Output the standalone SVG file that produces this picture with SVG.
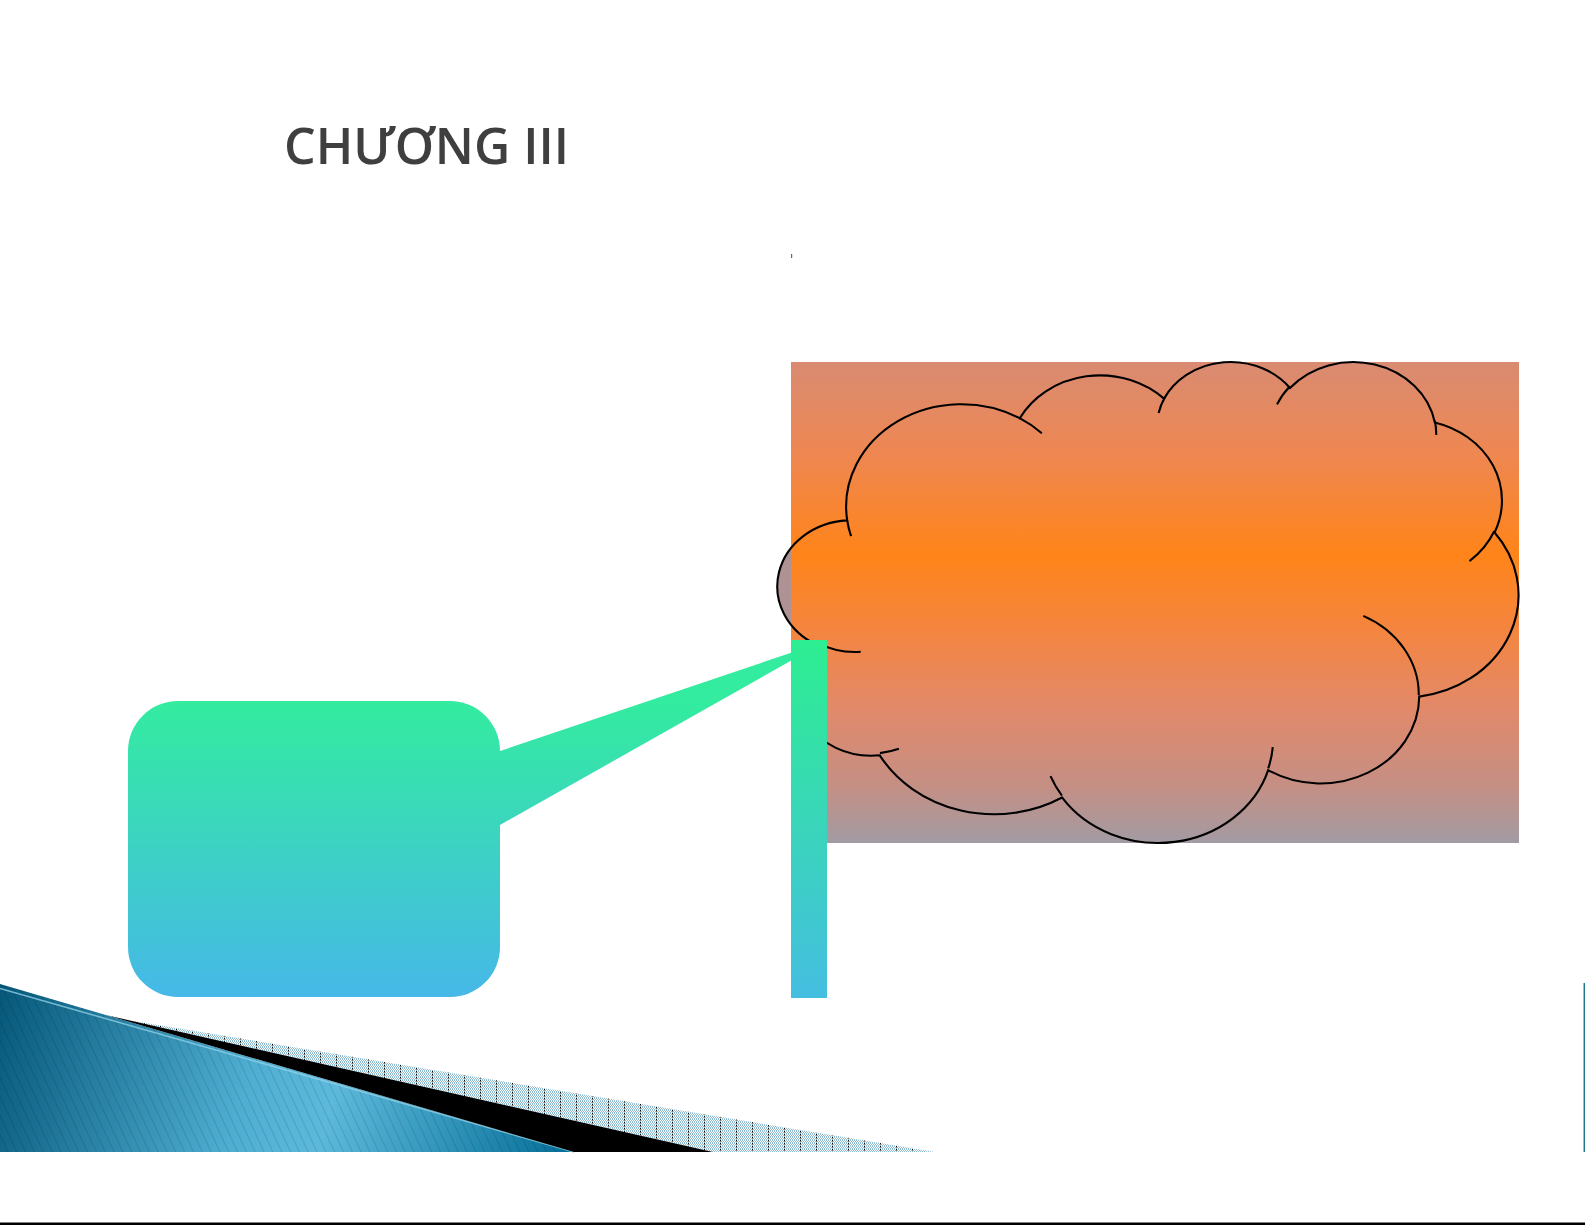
<svg xmlns="http://www.w3.org/2000/svg" width="1585" height="1225" viewBox="0 0 1585 1225">
<style>
.title{font-family:"Open Sans","Noto Sans","DejaVu Sans",sans-serif;font-size:50px;font-weight:600;fill:#3f3f3f}
.cl{fill:none;stroke:#000;stroke-width:2.1;vector-effect:non-scaling-stroke}
</style>
<defs>
<linearGradient id="gOrange" gradientUnits="userSpaceOnUse" x1="0" y1="362" x2="0" y2="843">
<stop offset="0" stop-color="#D98B72"/>
<stop offset="0.19" stop-color="#EE8752"/>
<stop offset="0.40" stop-color="#FF8419"/>
<stop offset="0.55" stop-color="#F5853E"/>
<stop offset="0.72" stop-color="#E2896A"/>
<stop offset="0.88" stop-color="#C58F84"/>
<stop offset="1" stop-color="#A29BA3"/>
</linearGradient>
<linearGradient id="gCallout" gradientUnits="userSpaceOnUse" x1="0" y1="701" x2="0" y2="997">
<stop offset="0" stop-color="#33EC9F"/>
<stop offset="1" stop-color="#46B8E8"/>
</linearGradient>
<linearGradient id="gBar" gradientUnits="userSpaceOnUse" x1="0" y1="640" x2="0" y2="998">
<stop offset="0" stop-color="#2DEE91"/>
<stop offset="1" stop-color="#45BEE1"/>
</linearGradient>
<linearGradient id="gBlue" gradientUnits="userSpaceOnUse" x1="0" y1="990" x2="560" y2="1152">
<stop offset="0" stop-color="#06587A"/>
<stop offset="0.45" stop-color="#4EAED2"/>
<stop offset="0.6" stop-color="#5CB9DB"/>
<stop offset="1" stop-color="#08719A"/>
</linearGradient>
<pattern id="pChk" width="2" height="2" patternUnits="userSpaceOnUse">
<rect width="2" height="2" fill="#fff"/>
<rect width="1" height="1" fill="#8DBBCF"/>
<rect x="1" y="1" width="1" height="1" fill="#8DBBCF"/>
</pattern>
<pattern id="pDots" width="16" height="3" patternUnits="userSpaceOnUse">
<rect width="16" height="3" fill="url(#pChk)"/>
<rect width="1" height="1.5" fill="#000"/>
</pattern>
<pattern id="pStripe" width="8" height="8" patternUnits="userSpaceOnUse" patternTransform="rotate(-25)">
<rect width="1" height="8" fill="#000" opacity="0.12"/>
</pattern>
<clipPath id="clipLeft"><rect x="0" y="0" width="791" height="1225"/></clipPath>
</defs>

<g id="title">
<text class="title" x="284" y="164">CHƯƠNG III</text>
</g>

<g id="mark"><rect x="791" y="254" width="1.2" height="4" fill="#666"/></g>

<g id="panel">
<rect x="791" y="362" width="728" height="481" fill="url(#gOrange)"/>
</g>

<g id="cloud">
<g clip-path="url(#clipLeft)">
<path transform="translate(780.6 360.4) scale(0.017073 0.011131)" fill="#AF9294" d="M3900 14370 A6753 9190 0 0 1 14006 5203 A5333 7267 0 0 1 22459 3434 A4365 5945 0 0 1 29835 2480 A4857 6595 0 0 1 38320 5575 A5333 7273 0 0 1 41820 15459 A6775 9220 0 0 1 37407 30204 A5785 7867 0 0 1 28558 36814 A6752 9215 0 0 1 16484 39267 A7720 10543 0 0 1 5808 35479 A4360 5918 0 0 1 2116 25558 A4345 5945 0 0 1 3900 14370 Z"/>
</g>
<path class="cl" transform="translate(780.6 360.4) scale(0.017073 0.011131)" d="M3900 14370 A6753 9190 0 0 1 14006 5203 A5333 7267 0 0 1 22459 3434 A4365 5945 0 0 1 29835 2480 A4857 6595 0 0 1 38320 5575 A5333 7273 0 0 1 41820 15459 A6775 9220 0 0 1 37407 30204 A5785 7867 0 0 1 28558 36814 A6752 9215 0 0 1 16484 39267 A7720 10543 0 0 1 5808 35479 A4360 5918 0 0 1 2116 25558 A4345 5945 0 0 1 3900 14370 Z"/>
<path class="cl" transform="translate(780.6 360.4) scale(0.017073 0.011131)" d="M4693 26177 A4345 5945 0 0 1 2160 25380 M6928 34899 A4360 5918 0 0 1 5820 35280 M16478 39090 A6752 9215 0 0 1 15809 37347 M28827 34751 A6752 9215 0 0 1 28560 36660 M34129 22954 A5785 7867 0 0 1 37380 30089 M41798 15354 A5333 7273 0 0 1 40350 18030 M38324 5426 A4857 6595 0 0 1 38400 6690 M29078 3952 A4857 6595 0 0 1 29820 2340 M22141 4720 A4365 5945 0 0 1 22500 3331 M14000 5192 A6753 9190 0 0 1 15300 6541 M4127 15789 A6753 9190 0 0 1 3900 14371"/>
</g>

<g id="callout">
<path fill="url(#gCallout)" d="M178 701 H450 A50 50 0 0 1 500 751 L826 641 L500 825 V947 A50 50 0 0 1 450 997 H178 A50 50 0 0 1 128 947 V751 A50 50 0 0 1 178 701 Z"/>
</g>

<g id="bar">
<rect x="791" y="640" width="36" height="358" fill="url(#gBar)"/>
</g>

<g id="connectors"></g>

<g id="decoration">
<polygon points="0,984 574,1152 0,1152" fill="url(#gBlue)"/>
<polygon points="0,984 574,1152 0,1152" fill="url(#pStripe)"/>
<line x1="0" y1="988.5" x2="574" y2="1152" stroke="#8FD0E6" stroke-width="1.5" opacity="0.8"/>
<polygon points="115,1018 935,1152 713,1152 107,1015.3" fill="url(#pDots)"/>
<polygon points="107,1015.3 713,1152 574,1152" fill="#000"/>
<line x1="1584.3" y1="983" x2="1584.3" y2="1152" stroke="#1F7A90" stroke-width="1.5"/>
<rect x="0" y="1222.5" width="1585" height="2.5" fill="#000"/>
</g>
</svg>
